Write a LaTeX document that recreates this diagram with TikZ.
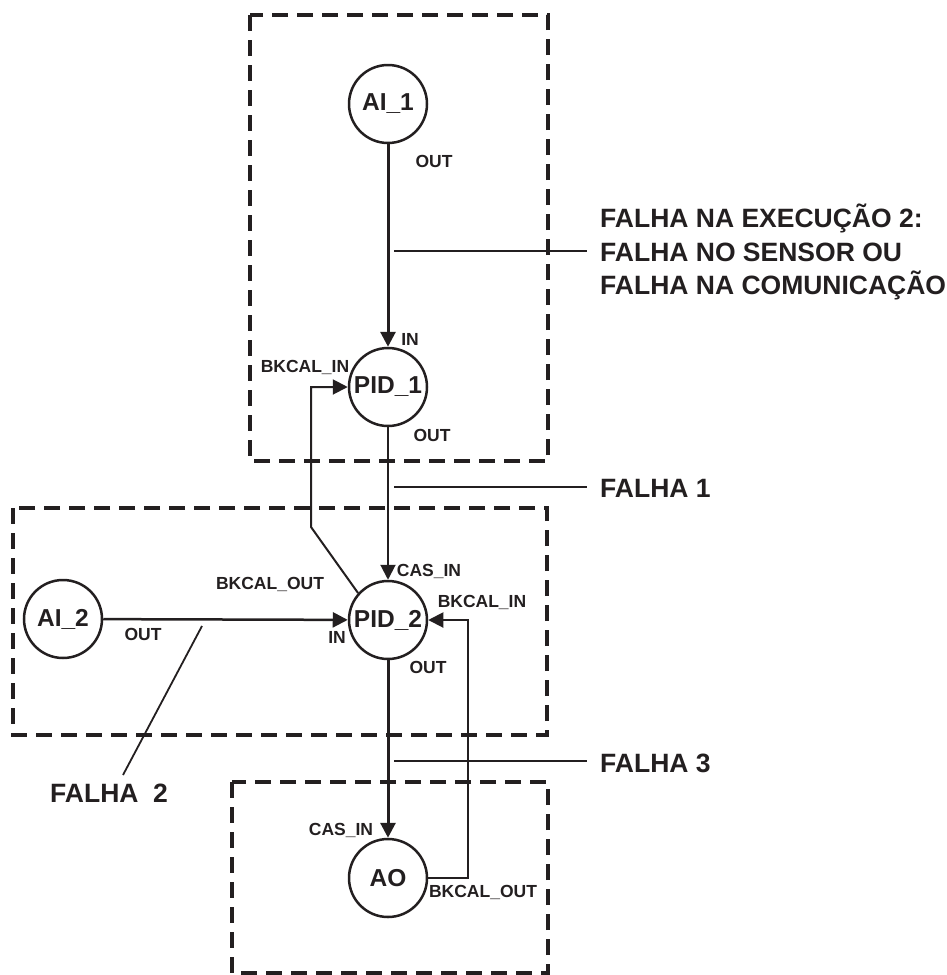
\documentclass[tikz,border=0pt]{standalone}
\usepackage{fontspec}
\setmainfont{Liberation Sans}
\usetikzlibrary{arrows.meta}
\definecolor{ink}{RGB}{35,31,32}
\begin{document}
\begin{tikzpicture}[x=1pt,y=-1pt,
  blk/.style={circle,draw=ink,line width=2.5pt,minimum size=78pt,inner sep=0pt,
    font=\bfseries\fontsize{24.5}{28}\selectfont,text=ink},
  lbl/.style={font=\bfseries\fontsize{17.5}{20}\selectfont,text=ink,inner sep=0pt},
  fail/.style={font=\bfseries\fontsize{26.5}{33.5}\selectfont,text=ink,inner sep=0pt,align=left,anchor=west},
  grp/.style={draw=ink,line width=3.5pt,dash pattern=on 16pt off 9pt},
  sig/.style={draw=ink,line width=2pt,-{Triangle[length=15pt,width=15pt]}},
  fl/.style={draw=ink,line width=1.8pt}]
\useasboundingbox (0,0) rectangle (947,975);

% group boxes
\draw[grp] (250,15) rectangle (548,461);
\draw[grp] (13,508) rectangle (547,735);
\draw[grp] (232,782) rectangle (548,973);

% blocks
\node[blk] (ai1) at (388,104) {AI\_1};
\node[blk] (pid1) at (388,387) {PID\_1};
\node[blk] (ai2) at (63,619) {AI\_2};
\node[blk] (pid2) at (388,620) {PID\_2};
\node[blk] (ao) at (388,878) {AO};

% connectors
\draw[sig,line width=3pt] (ai1) -- (pid1);
\draw[sig] (pid1) -- (pid2);
\draw[sig,line width=2.5pt] (ai2) -- (pid2);
\draw[sig,line width=3pt] (pid2) -- (ao);
\coordinate (fbk1) at (311,527);
\draw[sig] (pid2.138) -- (fbk1) |- (pid1.west);
\coordinate (fbk2) at (468,878);
\draw[sig] (ao.east) -- (fbk2) |- (pid2.east);

% port labels
\node[lbl] (l1) at (434,161) {OUT};
\node[lbl] (l2) at (410,339) {IN};
\node[lbl] (l3) at (305,367) {BKCAL\_IN};
\node[lbl] (l4) at (432,435) {OUT};
\node[lbl] (l5) at (429,571) {CAS\_IN};
\node[lbl] (l6) at (270,584) {BKCAL\_OUT};
\node[lbl] (l7) at (337,637) {IN};
\node[lbl] (l8) at (482,602) {BKCAL\_IN};
\node[lbl] (l9) at (428,667) {OUT};
\node[lbl] (l10) at (143,634) {OUT};
\node[lbl] (l11) at (341,830) {CAS\_IN};
\node[lbl] (l12) at (483,892) {BKCAL\_OUT};

% failure annotations
\coordinate (fa0) at (394,251);
\coordinate (fb0) at (587,251);
\draw[fl] (fa0) -- (fb0);
\node[fail] (t0) at (600,252) {FALHA NA EXECUÇÃO 2:\\FALHA NO SENSOR OU\\FALHA NA COMUNICAÇÃO};
\coordinate (fa1) at (394,487);
\coordinate (fb1) at (587,487);
\draw[fl] (fa1) -- (fb1);
\node[fail] (t1) at (600,488) {FALHA 1};
\coordinate (fa3) at (394,761);
\coordinate (fb3) at (587,761);
\draw[fl] (fa3) -- (fb3);
\node[fail] (t3) at (600,763) {FALHA 3};
\coordinate (fa2) at (202,626);
\coordinate (fb2) at (123,775);
\draw[fl] (fa2) -- (fb2);
\node[fail] (t2) at (50,793) {FALHA\ \ 2};
\end{tikzpicture}
\end{document}
